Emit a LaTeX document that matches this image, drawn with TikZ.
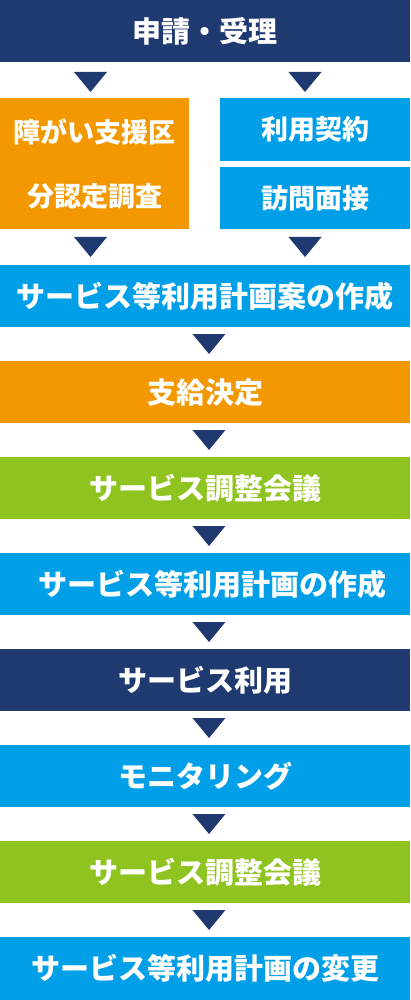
\documentclass[tikz,border=0pt]{standalone}
\usepackage{fontspec}
\setmainfont{Noto Sans CJK JP}
\usetikzlibrary{positioning}
\definecolor{navy}{HTML}{1E3A70}
\definecolor{skyblue}{HTML}{009FE8}
\definecolor{amber}{HTML}{F39800}
\definecolor{leaf}{HTML}{8FC31F}
\tikzset{
  stage/.style={rectangle, anchor=north west, inner sep=0pt, text=white,
    minimum width=410pt, minimum height=62pt,
    font=\bfseries\fontsize{29}{32}\selectfont},
  halfbox/.style={stage, minimum width=190pt,
    font=\bfseries\fontsize{27}{64}\selectfont},
  downtri/.style={fill=navy}
}

\begin{document}
\begin{tikzpicture}[x=1pt,y=-1pt]
  \useasboundingbox (0,0) rectangle (410,1000);

  % top
  \node[stage, fill=navy] (apply) at (0,0) {申請・受理};

  % two columns
  \node[halfbox, fill=amber, minimum width=189pt, minimum height=131pt, align=center]
    (survey) at (0,98) {障がい支援区\\分認定調査};
  \node[halfbox, fill=skyblue, minimum height=63pt] (contract) at (220,98) {利用契約};
  \node[halfbox, fill=skyblue] (visit) at (220,167) {訪問面接};

  % main flow
  \node[stage, fill=skyblue] (draft) at (0,265) {サービス等利用計画案の作成};
  \node[stage, fill=amber] (decide) at (0,361) {支給決定};
  \node[stage, fill=leaf] (meetA) at (0,457) {サービス調整会議};
  \node[stage, fill=skyblue] (plan) at (0,553) {\hspace*{14pt}サービス等利用計画の作成};
  \node[stage, fill=navy] (use) at (0,649) {サービス利用};
  \node[stage, fill=skyblue] (monitor) at (0,745) {モニタリング};
  \node[stage, fill=leaf] (meetB) at (0,841) {サービス調整会議};
  \node[stage, fill=skyblue, minimum height=63pt] (change) at (0,937) {サービス等利用計画の変更};

  % triangles
  \foreach \x/\y in {90.5/72, 305/72, 90.5/237, 305/237,
                     209/334, 209/430, 209/526, 209/622,
                     209/718, 209/814, 209/910}
    \fill[downtri] (\x-16.5,\y) -- (\x+16.5,\y) -- (\x,\y+20) -- cycle;
\end{tikzpicture}
\end{document}
